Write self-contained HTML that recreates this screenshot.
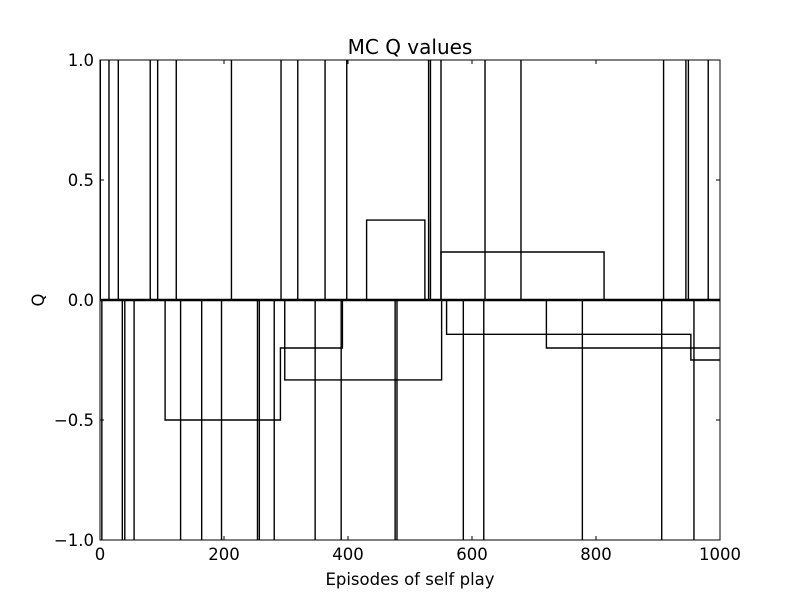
<!DOCTYPE html>
<html><head><meta charset="utf-8"><style>
body{margin:0;background:#fff}
svg text{font-family:"DejaVu Sans","Liberation Sans",sans-serif;font-size:16.5px;fill:#000}
</style></head><body>
<svg id="chart" width="800" height="600" xmlns="http://www.w3.org/2000/svg">
<rect width="800" height="600" fill="#fff"/>
<g id="marks"></g>
<g id="axes"></g>
<text x="410" y="54" text-anchor="middle" style="font-size:20px">MC Q values</text>
<text x="410" y="585" text-anchor="middle">Episodes of self play</text>
<text x="0" y="0" text-anchor="middle" transform="translate(44,300) rotate(-90)">Q</text>
</svg>
<script>
const upSpikes=[0.5,14.5,29.5,81,93,123,212,292,319,363,398,530,533,550,621,679,909,945,949,981];
const downSpikes=[3,36,40,55,130,164,196,254,257,281,347,389,476,479,586,619,778,906,958];
const stepSeries=[
 [[0,0],[105,0],[105,-0.5],[291,-0.5],[291,-0.2],[391,-0.2],[391,0],[1000,0]],
 [[0,0],[298,0],[298,-0.333],[551,-0.333],[551,0],[1000,0]],
 [[0,0],[430,0],[430,0.333],[524,0.333],[524,0],[1000,0]],
 [[0,0],[550,0],[550,0.2],[813,0.2],[813,0],[1000,0]],
 [[0,0],[559,0],[559,-0.143],[953,-0.143],[953,-0.25],[1000,-0.25]],
 [[0,0],[720,0],[720,-0.2],[1000,-0.2]]
];
const xTicks=[0,200,400,600,800,1000];
const yTicks=[-1,-0.5,0,0.5,1];
const yTickLabels=["\u22121.0","\u22120.5","0.0","0.5","1.0"];
const L=100,R=720,T=60,B=540;
const xs=v=>L+(v/1000)*(R-L);
const ys=v=>T+(1-v)/2*(B-T);
const NS="http://www.w3.org/2000/svg";
const marks=document.getElementById('marks');
const axes=document.getElementById('axes');
function mk(tag,attrs,parent){const e=document.createElementNS(NS,tag);for(const k in attrs)e.setAttribute(k,attrs[k]);parent.appendChild(e);return e;}
upSpikes.forEach(e=>{
 const l=mk('line',{x1:xs(e),x2:xs(e),y1:ys(0),y2:ys(1),stroke:'#000','stroke-width':1.4},marks);
 
 
});
downSpikes.forEach(e=>{
 const l=mk('line',{x1:xs(e),x2:xs(e),y1:ys(0),y2:ys(-1),stroke:'#000','stroke-width':1.4},marks);
 
 
});
stepSeries.forEach((s,i)=>{
 const p=mk('polyline',{points:s.map(d=>xs(d[0])+','+ys(d[1])).join(' '),fill:'none',stroke:'#000','stroke-width':1.4},marks);
 
 
});
const z=mk('line',{x1:L,x2:R,y1:ys(0),y2:ys(0),stroke:'#000','stroke-width':2.5},marks);


const fr=mk('rect',{x:L,y:T,width:R-L,height:B-T,fill:'none',stroke:'#000','stroke-width':1},axes);


xTicks.forEach(v=>{
 const x=xs(v);
 mk('line',{x1:x,x2:x,y1:B,y2:B-4,stroke:'#000'},axes);
 mk('line',{x1:x,x2:x,y1:T,y2:T+4,stroke:'#000'},axes);
 const t=mk('text',{x:x,y:B+20,'text-anchor':'middle'},axes);
 t.textContent=v;
 
 
});
yTicks.forEach((v,i)=>{
 const y=ys(v);
 mk('line',{x1:L,x2:L+4,y1:y,y2:y,stroke:'#000'},axes);
 mk('line',{x1:R,x2:R-4,y1:y,y2:y,stroke:'#000'},axes);
 const t=mk('text',{x:L-6,y:y+6,'text-anchor':'end'},axes);
 t.textContent=yTickLabels[i];
 
 
});
</script>
</body></html>
